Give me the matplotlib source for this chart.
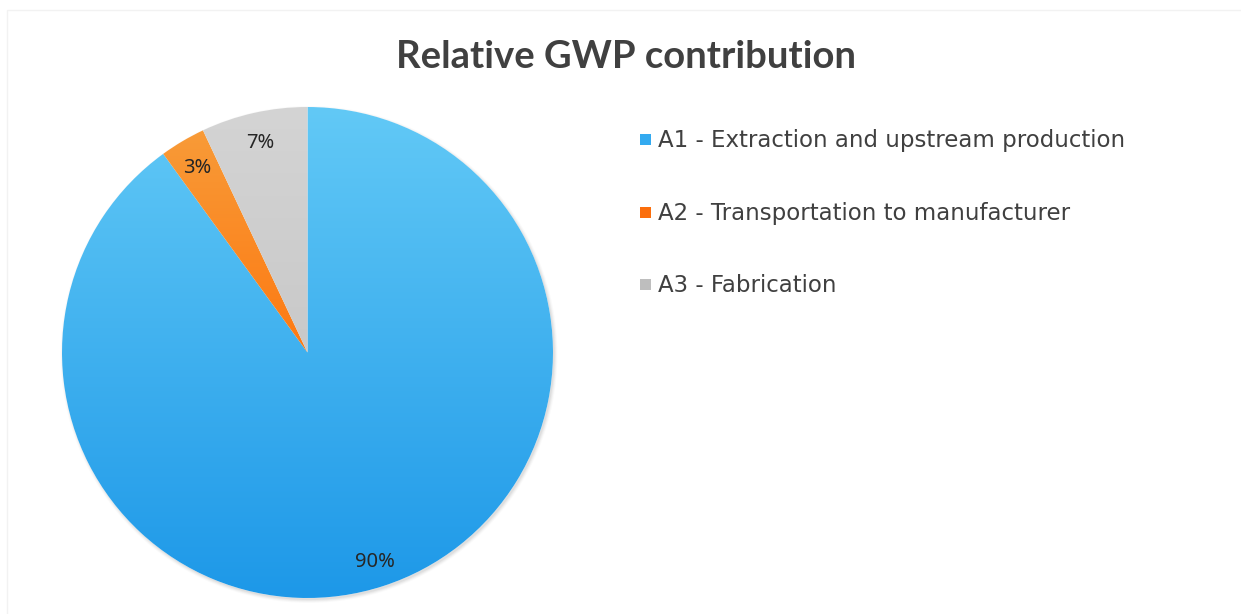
import numpy as np
import matplotlib.pyplot as plt
from matplotlib.patches import Rectangle, Circle
from matplotlib.colors import to_rgb
from matplotlib.transforms import offset_copy

# data
labels = ['A1 - Extraction and upstream production',
          'A2 - Transportation to manufacturer',
          'A3 - Fabrication']
shares = [90, 3, 7]
top_colors = ['#62C9F6', '#F89B38', '#D4D4D4']
bottom_colors = ['#1D98E8', '#FD7912', '#C9C9C9']
legend_colors = ['#33AAF0', '#FB6E0C', '#BEBEBE']

W, H = 1241, 614
fig = plt.figure(figsize=(W / 100, H / 100), dpi=100)

# pie axes: centre (307.5, 352.5) px, radius 245.5 px
R = 245.5
lim = 1.03
half = lim * R
ax = fig.add_axes([(307.5 - half) / W, (H - 352.5 - half) / H, 2 * half / W, 2 * half / H])
ax.set_axis_off()

# soft shadow bottom-right
for i, a in enumerate([0.10, 0.08, 0.06, 0.04]):
    ax.add_patch(Circle((0.006, -0.008), 1.0 + 0.004 * i, color='#808080', alpha=a,
                        lw=0, zorder=0))
ax.add_patch(Circle((0, 0), 1.0, color='white', lw=0, zorder=0.5))

wedges, texts, autotexts = ax.pie(shares, startangle=90, counterclock=False, radius=1,
                                  autopct='%d%%', pctdistance=0.885,
                                  textprops=dict(family='Noto Sans', fontsize=14.5,
                                                 color='#262626'),
                                  wedgeprops=dict(linewidth=0))

# vertical gradient in each slice
for w, c0, c1 in zip(wedges, top_colors, bottom_colors):
    ext = w.get_path().get_extents()
    t = np.linspace(0, 1, 256)[:, None, None]
    grad = (1 - t) * np.array(to_rgb(c1)) + t * np.array(to_rgb(c0))
    im = ax.imshow(grad, extent=(ext.x0, ext.x1, ext.y0, ext.y1), origin='lower',
                   aspect='auto', zorder=1, interpolation='bilinear')
    im.set_clip_path(w)
    w.set_facecolor('none')
for t in autotexts:
    t.set_zorder(5)
    t.set_transform(offset_copy(ax.transData, fig=fig, y=-3, units='dots'))

ax.set_xlim(-lim, lim)
ax.set_ylim(-lim, lim)
ax.set_aspect('equal')

# faint chart border
fig.add_artist(Rectangle((7 / W, -0.01), 1.1, (H - 10) / H + 0.01, transform=fig.transFigure,
                         fill=False, edgecolor='#F2F2F2', lw=1))

# title
fig.text(626.5 / W, 1 - 68.5 / H, 'Relative GWP contribution', ha='center', va='baseline',
         family='Lato', fontweight='bold', fontsize=27.5, color='#404040')

# legend
rows = [139, 212, 284]
for y, lab, col in zip(rows, labels, legend_colors):
    fig.add_artist(Rectangle((640 / W, 1 - (y + 6) / H), 11 / W, 11 / H,
                             transform=fig.transFigure, color=col, lw=0))
    fig.text(658 / W, 1 - (y + 8) / H, lab, ha='left', va='baseline',
             family='DejaVu Sans', fontsize=16.5, color='#404040')

fig.savefig('out.png', dpi=100, facecolor='white')
